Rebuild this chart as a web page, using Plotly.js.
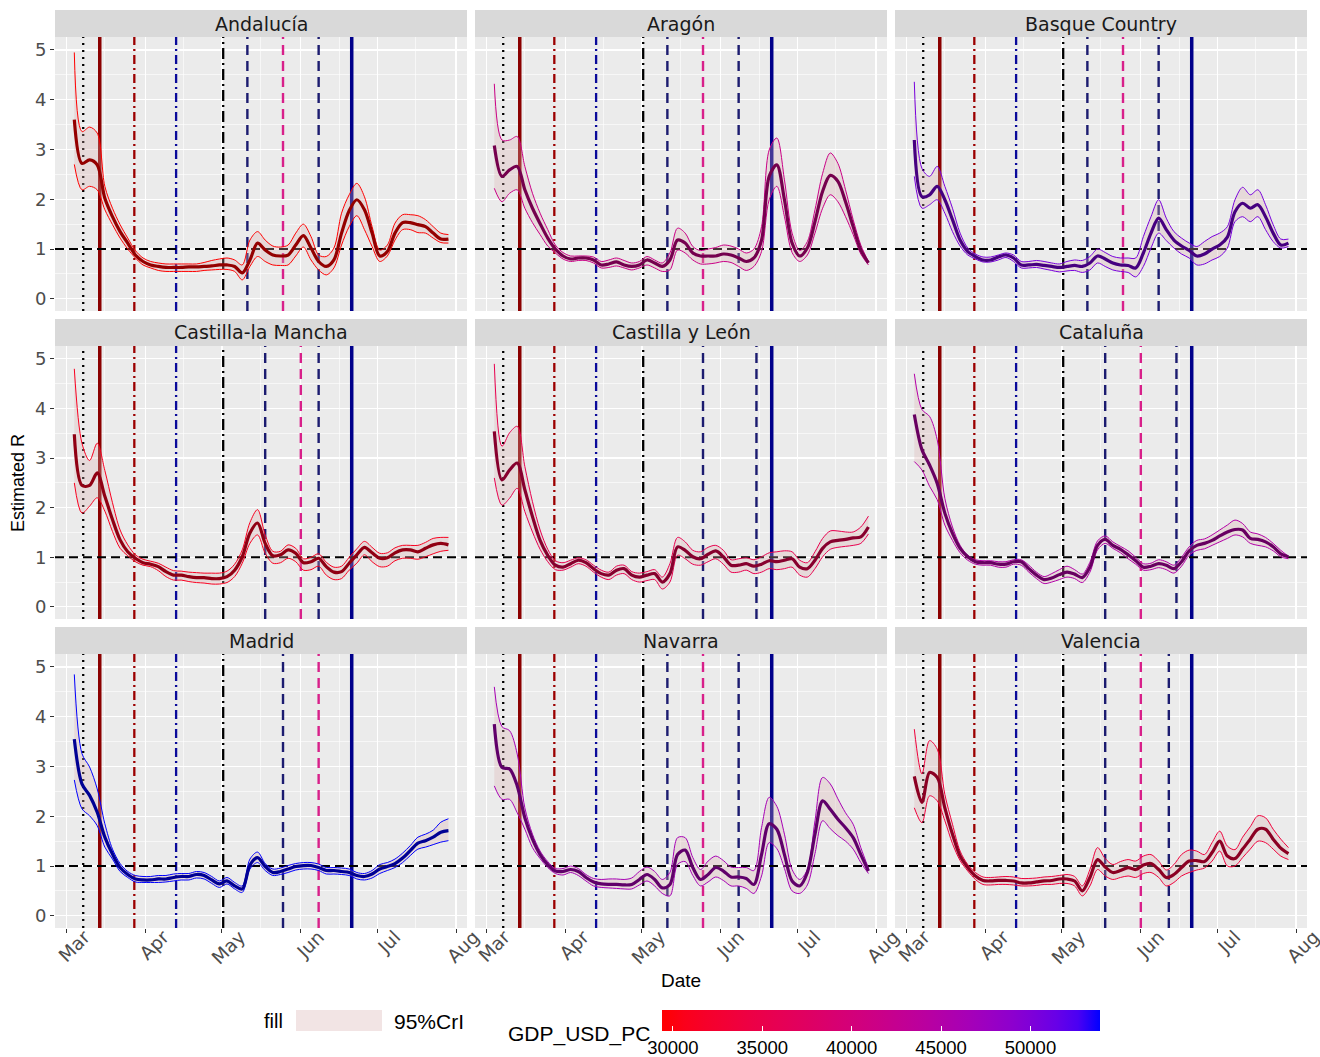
<!DOCTYPE html>
<html><head><meta charset="utf-8">
<script src="https://cdn.plot.ly/plotly-3.0.1.min.js"></script>
<style>body{margin:0;background:#fff}#chart{width:1320px;height:1057px}</style>
</head><body><div id="chart"></div>
<script>
// ---------------- DATA ----------------
const dates = ["2020-03-04","2020-03-07","2020-03-10","2020-03-13","2020-03-16","2020-03-19","2020-03-22","2020-03-25","2020-03-28","2020-03-31",
"2020-04-03","2020-04-06","2020-04-09","2020-04-12","2020-04-15","2020-04-18","2020-04-21","2020-04-24","2020-04-27","2020-04-30",
"2020-05-03","2020-05-06","2020-05-09","2020-05-12","2020-05-15","2020-05-18","2020-05-21","2020-05-24","2020-05-27","2020-05-30",
"2020-06-02","2020-06-05","2020-06-08","2020-06-11","2020-06-14","2020-06-17","2020-06-20","2020-06-23","2020-06-26","2020-06-29",
"2020-07-02","2020-07-05","2020-07-08","2020-07-11","2020-07-14","2020-07-17","2020-07-20","2020-07-23","2020-07-26","2020-07-29"];

const regions = ["Andalucía","Aragón","Basque Country","Castilla-la Mancha","Castilla y León","Cataluña","Madrid","Navarra","Valencia"];
const gdpUsdPc = [29400, 41500, 50500, 31000, 35500, 45000, 53900, 46500, 33500];

const meanAndalucia = [3.60,2.72,2.79,2.69,2.02,1.65,1.35,1.12,0.88,0.75,0.68,0.65,0.63,0.63,0.63,0.64,0.64,0.65,0.66,0.68,0.68,0.65,0.52,0.78,1.12,0.98,0.88,0.86,0.88,1.08,1.27,1.02,0.75,0.65,0.78,1.32,1.77,1.99,1.79,1.32,0.86,0.95,1.32,1.53,1.53,1.49,1.45,1.32,1.20,1.20];
const upperAndalucia = [4.95,3.36,3.45,3.33,2.26,1.82,1.49,1.22,0.97,0.82,0.75,0.72,0.70,0.70,0.70,0.70,0.70,0.73,0.77,0.80,0.82,0.78,0.68,1.18,1.35,1.18,1.06,1.04,1.08,1.32,1.50,1.25,0.88,0.85,1.02,1.72,2.09,2.32,2.05,1.45,0.98,1.08,1.52,1.69,1.69,1.67,1.59,1.45,1.32,1.29];
const lowerAndalucia = [2.70,2.19,2.26,2.19,1.79,1.49,1.22,1.00,0.82,0.68,0.62,0.57,0.55,0.55,0.55,0.55,0.55,0.57,0.58,0.59,0.59,0.55,0.38,0.65,0.85,0.75,0.68,0.67,0.68,0.86,1.04,0.78,0.58,0.48,0.62,1.08,1.45,1.67,1.39,1.05,0.75,0.86,1.18,1.39,1.39,1.33,1.32,1.22,1.13,1.12];

const meanAragon = [3.08,2.46,2.59,2.66,2.19,1.82,1.51,1.22,1.00,0.86,0.80,0.82,0.82,0.78,0.68,0.70,0.74,0.68,0.65,0.68,0.78,0.72,0.65,0.78,1.18,1.12,0.92,0.86,0.86,0.86,0.90,0.88,0.82,0.75,0.82,1.18,2.46,2.69,1.99,1.12,0.86,1.02,1.55,2.16,2.48,2.36,1.95,1.45,0.98,0.72];
const upperAragon = [4.32,3.19,3.19,3.26,2.66,2.12,1.72,1.39,1.08,0.93,0.86,0.86,0.86,0.84,0.75,0.78,0.82,0.77,0.72,0.75,0.85,0.78,0.72,0.92,1.42,1.32,1.05,0.97,1.00,1.03,1.08,1.06,1.00,0.92,1.00,1.45,2.99,3.23,2.39,1.32,0.97,1.15,1.79,2.52,2.93,2.72,2.19,1.59,1.08,0.75];
const lowerAragon = [2.22,1.95,2.12,2.19,1.82,1.53,1.29,1.06,0.92,0.80,0.75,0.77,0.77,0.72,0.62,0.63,0.66,0.62,0.58,0.62,0.68,0.62,0.55,0.58,0.98,0.92,0.78,0.70,0.70,0.72,0.75,0.73,0.65,0.57,0.65,0.95,1.99,2.26,1.65,0.93,0.75,0.88,1.32,1.82,2.09,1.95,1.65,1.29,0.90,0.68];

const meanBasque = [3.19,2.05,2.09,2.26,1.99,1.59,1.18,0.95,0.85,0.78,0.78,0.84,0.88,0.82,0.68,0.68,0.69,0.67,0.65,0.63,0.65,0.67,0.65,0.72,0.86,0.80,0.72,0.68,0.67,0.62,0.92,1.32,1.62,1.39,1.18,1.06,0.97,0.86,0.90,1.00,1.08,1.24,1.75,1.92,1.82,1.89,1.65,1.32,1.08,1.12];
const upperBasque = [4.36,2.62,2.46,2.66,2.26,1.82,1.32,1.02,0.90,0.84,0.84,0.88,0.92,0.88,0.75,0.75,0.77,0.75,0.72,0.70,0.75,0.78,0.77,0.85,1.00,0.93,0.85,0.82,0.82,0.82,1.25,1.65,1.99,1.62,1.35,1.22,1.12,1.05,1.15,1.25,1.32,1.45,1.99,2.24,2.09,2.19,1.89,1.49,1.20,1.20];
const lowerBasque = [2.46,1.82,1.89,1.99,1.72,1.35,1.06,0.88,0.80,0.74,0.74,0.78,0.83,0.75,0.62,0.62,0.63,0.60,0.57,0.54,0.56,0.57,0.53,0.58,0.72,0.65,0.58,0.55,0.53,0.44,0.65,1.02,1.32,1.17,1.02,0.90,0.82,0.68,0.70,0.78,0.85,1.02,1.55,1.65,1.55,1.65,1.39,1.15,1.02,1.05];

const meanCLM = [3.48,2.45,2.45,2.70,2.23,1.76,1.35,1.11,0.98,0.89,0.86,0.81,0.71,0.64,0.64,0.61,0.59,0.59,0.57,0.57,0.61,0.74,1.01,1.49,1.69,1.28,1.03,1.05,1.15,1.08,0.89,0.91,0.98,0.81,0.70,0.71,0.88,1.05,1.20,1.09,0.98,0.99,1.09,1.15,1.15,1.11,1.18,1.25,1.28,1.25];
const upperCLM = [4.80,3.30,2.95,3.30,2.75,2.10,1.55,1.25,1.05,0.96,0.92,0.88,0.80,0.73,0.72,0.70,0.69,0.68,0.68,0.68,0.72,0.86,1.15,1.70,1.96,1.45,1.12,1.12,1.25,1.18,0.97,1.00,1.07,0.90,0.80,0.82,1.00,1.17,1.32,1.20,1.08,1.09,1.19,1.24,1.24,1.24,1.30,1.38,1.40,1.40];
const lowerCLM = [2.50,1.89,2.03,2.20,1.93,1.52,1.18,1.03,0.91,0.84,0.81,0.73,0.61,0.54,0.54,0.51,0.49,0.48,0.46,0.46,0.49,0.61,0.88,1.28,1.45,1.08,0.88,0.89,0.98,0.91,0.74,0.75,0.82,0.64,0.55,0.57,0.74,0.88,1.05,0.91,0.81,0.82,0.93,0.98,0.98,0.96,1.01,1.07,1.12,1.14];

const meanCyL = [3.54,2.56,2.76,2.90,2.36,1.82,1.34,1.04,0.84,0.80,0.87,0.94,0.89,0.77,0.67,0.64,0.74,0.77,0.64,0.60,0.64,0.67,0.50,0.67,1.21,1.14,1.01,0.97,1.06,1.13,1.01,0.84,0.84,0.87,0.82,0.86,0.93,0.91,0.94,0.97,0.80,0.77,0.94,1.18,1.31,1.34,1.36,1.39,1.41,1.61];
const upperCyL = [4.90,3.24,3.51,3.64,2.83,2.12,1.55,1.16,0.93,0.89,0.94,0.99,0.95,0.84,0.74,0.70,0.82,0.84,0.71,0.68,0.71,0.75,0.60,0.87,1.40,1.31,1.14,1.11,1.20,1.24,1.14,0.95,0.97,0.99,0.95,1.01,1.09,1.11,1.13,1.11,0.94,0.89,1.11,1.38,1.53,1.53,1.51,1.51,1.61,1.83];
const lowerCyL = [2.60,2.05,2.19,2.39,1.92,1.51,1.16,0.91,0.75,0.74,0.80,0.87,0.82,0.70,0.60,0.55,0.64,0.67,0.55,0.50,0.53,0.55,0.36,0.50,1.04,0.97,0.86,0.84,0.91,0.97,0.86,0.70,0.70,0.74,0.67,0.70,0.77,0.75,0.77,0.80,0.64,0.60,0.77,1.01,1.16,1.20,1.22,1.24,1.28,1.47];

const meanCataluna = [3.88,3.17,2.86,2.49,1.89,1.48,1.18,1.01,0.91,0.89,0.89,0.86,0.86,0.91,0.91,0.77,0.64,0.55,0.58,0.65,0.70,0.66,0.59,0.80,1.24,1.36,1.24,1.16,1.05,0.93,0.80,0.82,0.87,0.84,0.77,0.91,1.13,1.24,1.28,1.34,1.43,1.51,1.56,1.55,1.38,1.36,1.31,1.21,1.07,1.01];
const upperCataluna = [4.70,3.98,3.84,3.37,2.19,1.61,1.24,1.04,0.95,0.93,0.93,0.91,0.91,0.95,0.95,0.84,0.70,0.61,0.67,0.75,0.82,0.75,0.66,0.90,1.33,1.43,1.31,1.22,1.13,1.00,0.87,0.88,0.95,0.91,0.84,1.00,1.21,1.34,1.37,1.45,1.55,1.65,1.75,1.68,1.51,1.47,1.40,1.28,1.14,1.02];
const lowerCataluna = [2.93,2.76,2.43,2.16,1.65,1.34,1.09,0.94,0.86,0.84,0.84,0.80,0.80,0.86,0.84,0.70,0.57,0.47,0.50,0.55,0.60,0.57,0.49,0.70,1.15,1.28,1.18,1.09,0.97,0.86,0.74,0.75,0.79,0.75,0.68,0.82,1.04,1.14,1.17,1.24,1.31,1.38,1.45,1.41,1.28,1.24,1.21,1.13,1.01,0.97];

const meanMadrid = [3.55,2.65,2.42,2.08,1.58,1.24,0.97,0.83,0.74,0.72,0.72,0.74,0.74,0.77,0.79,0.79,0.83,0.81,0.72,0.64,0.70,0.60,0.54,1.02,1.17,0.99,0.87,0.89,0.94,0.99,1.01,1.01,0.97,0.91,0.91,0.89,0.87,0.81,0.79,0.84,0.94,0.99,1.05,1.16,1.31,1.46,1.51,1.58,1.68,1.71];
const upperMadrid = [4.85,3.26,2.99,2.55,1.85,1.34,1.05,0.89,0.81,0.79,0.79,0.81,0.81,0.84,0.85,0.85,0.89,0.87,0.79,0.70,0.77,0.67,0.60,1.14,1.28,1.05,0.94,0.96,1.01,1.05,1.07,1.07,1.04,0.97,0.97,0.96,0.94,0.87,0.85,0.91,1.03,1.07,1.14,1.26,1.41,1.58,1.64,1.72,1.88,1.95];
const lowerMadrid = [2.73,2.15,2.01,1.81,1.38,1.14,0.89,0.77,0.68,0.67,0.67,0.67,0.68,0.70,0.72,0.72,0.76,0.74,0.65,0.57,0.64,0.54,0.47,0.94,1.07,0.91,0.81,0.83,0.87,0.92,0.94,0.94,0.91,0.84,0.84,0.83,0.81,0.74,0.72,0.76,0.85,0.91,0.97,1.07,1.21,1.34,1.38,1.43,1.48,1.51];

const meanNavarra = [3.85,2.98,2.95,2.61,1.97,1.54,1.23,1.03,0.90,0.89,0.93,0.89,0.77,0.68,0.64,0.63,0.63,0.62,0.63,0.73,0.83,0.73,0.56,0.63,1.23,1.32,0.97,0.73,0.83,0.97,0.90,0.78,0.78,0.75,0.63,1.23,1.85,1.74,1.23,0.70,0.60,0.87,1.64,2.31,2.14,1.94,1.77,1.57,1.23,0.90];
const upperNavarra = [4.60,3.80,3.72,3.25,2.17,1.64,1.30,1.09,0.95,0.95,1.00,0.95,0.83,0.75,0.73,0.74,0.74,0.73,0.76,0.89,0.98,0.89,0.73,0.87,1.57,1.57,1.17,0.93,1.10,1.20,1.11,0.98,0.97,0.97,0.91,1.77,2.38,2.20,1.64,0.93,0.73,0.93,1.91,2.78,2.65,2.35,2.07,1.84,1.37,0.96];
const lowerNavarra = [2.61,2.34,2.34,2.07,1.74,1.37,1.15,0.97,0.85,0.82,0.87,0.81,0.70,0.60,0.57,0.56,0.55,0.54,0.54,0.62,0.70,0.60,0.45,0.40,1.03,1.09,0.81,0.60,0.68,0.78,0.71,0.60,0.60,0.55,0.45,0.80,1.47,1.35,0.95,0.50,0.45,0.62,1.25,1.91,1.75,1.61,1.50,1.34,1.07,0.85];

const meanValencia = [2.80,2.28,2.88,2.78,2.17,1.64,1.20,0.97,0.80,0.71,0.70,0.71,0.71,0.70,0.66,0.66,0.68,0.70,0.71,0.74,0.74,0.70,0.50,0.77,1.13,0.98,0.87,0.91,0.97,0.93,1.02,1.05,0.93,0.77,0.83,0.97,1.10,1.11,1.09,1.27,1.50,1.20,1.15,1.34,1.54,1.74,1.74,1.54,1.36,1.25];
const upperValencia = [3.75,2.85,3.52,3.35,2.44,1.84,1.30,1.03,0.87,0.78,0.77,0.78,0.79,0.78,0.75,0.75,0.76,0.78,0.79,0.81,0.83,0.79,0.60,0.93,1.37,1.15,1.03,1.09,1.13,1.10,1.20,1.23,1.10,0.92,1.03,1.23,1.32,1.30,1.23,1.47,1.70,1.40,1.33,1.58,1.79,2.01,1.97,1.74,1.54,1.37];
const lowerValencia = [2.17,1.87,2.41,2.31,1.91,1.45,1.11,0.90,0.73,0.63,0.62,0.63,0.63,0.62,0.60,0.60,0.61,0.63,0.63,0.65,0.65,0.60,0.40,0.60,0.93,0.80,0.73,0.77,0.80,0.77,0.85,0.87,0.77,0.60,0.67,0.80,0.87,0.92,0.96,1.10,1.30,1.00,1.00,1.17,1.34,1.50,1.47,1.34,1.20,1.13];

const meanSeries  = [meanAndalucia, meanAragon, meanBasque, meanCLM, meanCyL, meanCataluna, meanMadrid, meanNavarra, meanValencia];
const upperSeries = [upperAndalucia, upperAragon, upperBasque, upperCLM, upperCyL, upperCataluna, upperMadrid, upperNavarra, upperValencia];
const lowerSeries = [lowerAndalucia, lowerAragon, lowerBasque, lowerCLM, lowerCyL, lowerCataluna, lowerMadrid, lowerNavarra, lowerValencia];

// Common intervention dates (all regions)
const dateDotted = "2020-03-07 12:00";
const dateAlarm = "2020-03-14";
const dateHibernation = "2020-03-27 14:00";
const dateReturnWork = "2020-04-13";
const dateWalks = "2020-05-01 12:00";
const dateAlarmEnd = "2020-06-21";
// Region-specific phase dates
const phaseNavy = [["2020-05-11","2020-06-08"],["2020-05-11","2020-06-08"],["2020-05-11","2020-06-08"],["2020-05-18","2020-06-08"],["2020-05-25","2020-06-15"],["2020-05-18","2020-06-15"],["2020-05-25"],["2020-05-11","2020-06-08"],["2020-05-18","2020-06-12"]];
const phaseMagenta = [["2020-05-25"],["2020-05-25"],["2020-05-25"],["2020-06-01"],[],["2020-06-01"],["2020-06-08"],["2020-05-25"],["2020-06-01"]];
const refR = 1;

const colorbarTicks = [30000, 35000, 40000, 45000, 50000];
const gdpMin = 29390, gdpMax = 53890;

// ---------------- COLOUR (Lab gradient red -> blue, like ggplot) ----------------
function toLin(c){c/=255;return c<=0.04045?c/12.92:Math.pow((c+0.055)/1.055,2.4);}
function toS(c){c=c<=0.0031308?12.92*c:1.055*Math.pow(c,1/2.4)-0.055;return Math.round(Math.max(0,Math.min(1,c))*255);}
const WX=0.95047,WY=1,WZ=1.08883;
function rgb2lab(r,g,b){const R=toLin(r),G=toLin(g),B=toLin(b);
 const X=(0.4124564*R+0.3575761*G+0.1804375*B)/WX,Y=(0.2126729*R+0.7151522*G+0.0721750*B)/WY,Z=(0.0193339*R+0.1191920*G+0.9503041*B)/WZ;
 const f=t=>t>0.008856?Math.cbrt(t):7.787*t+16/116;const fx=f(X),fy=f(Y),fz=f(Z);
 return [116*fy-16,500*(fx-fy),200*(fy-fz)];}
function lab2rgb(L,a,b){const fy=(L+16)/116,fx=fy+a/500,fz=fy-b/200;
 const fi=t=>{const t3=t*t*t;return t3>0.008856?t3:(t-16/116)/7.787;};
 const X=fi(fx)*WX,Y=fi(fy)*WY,Z=fi(fz)*WZ;
 const R=3.2404542*X-1.5371385*Y-0.4985314*Z,G=-0.9692660*X+1.8760108*Y+0.0415560*Z,B=0.0556434*X-0.2040259*Y+1.0572252*Z;
 return [toS(R),toS(G),toS(B)];}
const labLow=rgb2lab(255,0,0), labHigh=rgb2lab(0,0,255);
function gradRGB(t){t=Math.max(0,Math.min(1,t));return lab2rgb(labLow[0]+(labHigh[0]-labLow[0])*t,labLow[1]+(labHigh[1]-labLow[1])*t,labLow[2]+(labHigh[2]-labLow[2])*t);}
function gdpColor(v,k){const c=gradRGB((v-gdpMin)/(gdpMax-gdpMin));k=k||1;return `rgb(${Math.round(c[0]*k)},${Math.round(c[1]*k)},${Math.round(c[2]*k)})`;}
const colorscale=[];for(let i=0;i<=20;i++){const c=gradRGB(i/20);colorscale.push([i/20,`rgb(${c[0]},${c[1]},${c[2]})`]);}

// ---------------- LAYOUT GEOMETRY ----------------
const W=1320,H=1057;
const colL=[55,475,895], colR=[467,887,1307];
const rowT=[37,346,654], rowB=[311,619,928];
const stripT=[10,319,627];
const px=x=>x/W, py=y=>1-y/H;
const xRange=['2020-02-25 10:00','2020-08-05 07:00'];
const yRange=[-0.245,5.26];
const ribbonFill='rgba(220,175,175,0.30)';
const FONT='DejaVu Sans, Verdana, sans-serif';
const LFONT='Liberation Sans, Arial, sans-serif';

const traces=[], shapes=[], annotations=[];
const layout={width:W,height:H,margin:{l:0,r:0,t:0,b:0,autoexpand:false},paper_bgcolor:'#ffffff',plot_bgcolor:'#EBEBEB',showlegend:false};

regions.forEach((name,i)=>{
  const r=Math.floor(i/3), c=i%3;
  const sfx=i===0?'':String(i+1);
  const xa='x'+sfx, ya='y'+sfx;
  const col=gdpColor(gdpUsdPc[i]);
  const dark=gdpColor(gdpUsdPc[i],0.58);
  layout['xaxis'+sfx]={domain:[px(colL[c]),px(colR[c])],anchor:ya,type:'date',
    range:xRange,tickmode:'linear',tick0:'2020-03-01',dtick:'M1',tickformat:'%b',
    showgrid:true,gridcolor:'#ffffff',gridwidth:1.2,zeroline:false,showline:false,
    minor:{showgrid:true,gridcolor:'#ffffff',gridwidth:0.6,tick0:'2020-02-16',dtick:'M1'},
    showticklabels:r===2,ticks:r===2?'outside':'',ticklen:4,tickcolor:'#333333',tickwidth:1,
    tickangle:-45,ticklabelshift:18,ticklabelstandoff:-14,ticklabeloverflow:'allow',
    tickfont:{family:FONT,size:18.5,color:'#4D4D4D'},fixedrange:true};
  layout['yaxis'+sfx]={domain:[py(rowB[r]),py(rowT[r])],anchor:xa,range:yRange,
    tickmode:'array',tickvals:[0,1,2,3,4,5],
    showgrid:true,gridcolor:'#ffffff',gridwidth:1.2,zeroline:false,showline:false,
    minor:{showgrid:true,gridcolor:'#ffffff',gridwidth:0.6,tickmode:'array',tickvals:[0.5,1.5,2.5,3.5,4.5]},
    showticklabels:c===0,ticks:c===0?'outside':'',ticklen:4,tickcolor:'#333333',tickwidth:1,
    tickfont:{family:FONT,size:18,color:'#4D4D4D'},fixedrange:true};

  const base={xaxis:xa,yaxis:ya,mode:'lines',hoverinfo:'skip',showlegend:false};
  const vline=(d,color,width,dash)=>traces.push(Object.assign({},base,{x:[d,d],y:yRange,line:{color,width,dash}}));
  vline(dateDotted,'#000000',2.3,'2px,5px');
  vline(dateAlarm,'#8B0000',3.5,'solid');
  vline(dateHibernation,'#9B0000',2.3,'9px,4px,2px,4px');
  vline(dateReturnWork,'#0A0A9A',2.3,'9px,4px,2px,4px');
  vline(dateWalks,'#000000',2.3,'11px,4px,2px,4px');
  phaseNavy[i].forEach(d=>vline(d,'#1C1C70',2.4,'10px,6px'));
  phaseMagenta[i].forEach(d=>vline(d,'#D8208A',2.4,'10px,6px'));
  vline(dateAlarmEnd,'#00008B',3.5,'solid');
  traces.push(Object.assign({},base,{x:xRange,y:[refR,refR],line:{color:'#000000',width:2,dash:'9px,5px'}}));

  traces.push(Object.assign({},base,{x:dates,y:lowerSeries[i],line:{color:col,width:1,shape:'spline',smoothing:0.9}}));
  traces.push(Object.assign({},base,{x:dates,y:upperSeries[i],fill:'tonexty',fillcolor:ribbonFill,line:{color:col,width:1,shape:'spline',smoothing:0.9}}));
  traces.push(Object.assign({},base,{x:dates,y:meanSeries[i],line:{color:dark,width:3.2,shape:'spline',smoothing:0.9}}));

  // strip
  shapes.push({type:'rect',xref:'paper',yref:'paper',x0:px(colL[c]),x1:px(colR[c]),y0:py(rowT[r]),y1:py(stripT[r]),fillcolor:'#D9D9D9',line:{width:0}});
  annotations.push({xref:'paper',yref:'paper',x:px((colL[c]+colR[c])/2),y:py((stripT[r]+rowT[r])/2),text:name,showarrow:false,
    xanchor:'center',yanchor:'middle',font:{family:FONT,size:19,color:'#1A1A1A'}});
});

// axis titles
annotations.push({xref:'paper',yref:'paper',x:px(18),y:py(483),text:'Estimated R',textangle:-90,showarrow:false,xanchor:'center',yanchor:'middle',font:{family:LFONT,size:18,color:'#000000'}});
annotations.push({xref:'paper',yref:'paper',x:px(681),y:py(980),text:'Date',showarrow:false,xanchor:'center',yanchor:'middle',font:{family:LFONT,size:19,color:'#000000'}});

// fill legend
shapes.push({type:'rect',xref:'paper',yref:'paper',x0:px(296),x1:px(382),y0:py(1031),y1:py(1010),fillcolor:'#F2E4E4',line:{width:0}});
annotations.push({xref:'paper',yref:'paper',x:px(285),y:py(1021),text:'fill',showarrow:false,xanchor:'right',yanchor:'middle',font:{family:LFONT,size:20,color:'#000000'}});
annotations.push({xref:'paper',yref:'paper',x:px(392),y:py(1021),text:'95%CrI',showarrow:false,xanchor:'left',yanchor:'middle',font:{family:LFONT,size:21,color:'#000000'}});
annotations.push({xref:'paper',yref:'paper',x:px(652),y:py(1034),text:'GDP_USD_PC',showarrow:false,xanchor:'right',yanchor:'middle',font:{family:LFONT,size:21,color:'#000000'}});

// colourbar via dummy trace
traces.push({type:'scatter',x:[null],y:[null],xaxis:'x',yaxis:'y',mode:'markers',hoverinfo:'skip',showlegend:false,
  marker:{color:[gdpUsdPc[0]],cmin:gdpMin,cmax:gdpMax,colorscale:colorscale,showscale:true,
    colorbar:{orientation:'h',x:px(881),xanchor:'center',xref:'paper',y:py(1010),yanchor:'top',yref:'paper',
      len:438/W,lenmode:'fraction',thickness:21,thicknessmode:'pixels',xpad:0,ypad:0,outlinewidth:0,
      tickmode:'array',tickvals:colorbarTicks,ticktext:colorbarTicks.map(String),ticks:'inside',ticklen:5,tickcolor:'#ffffff',tickwidth:1,
      tickfont:{family:LFONT,size:18.5,color:'#000000'},title:{text:''}}}});

layout.shapes=shapes;
layout.annotations=annotations;
Plotly.newPlot('chart',traces,layout,{displayModeBar:false,staticPlot:true});
</script></body></html>
